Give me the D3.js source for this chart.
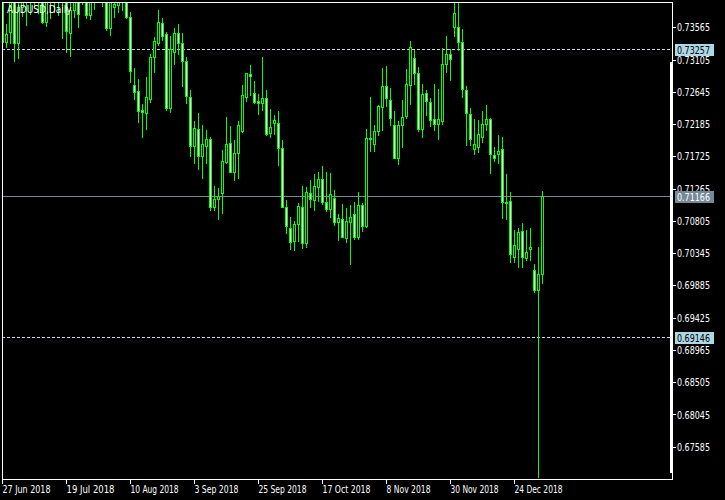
<!DOCTYPE html>
<html><head><meta charset="utf-8">
<script src="https://cdnjs.cloudflare.com/ajax/libs/d3/7.8.5/d3.min.js"></script>
<style>
html,body{margin:0;padding:0;background:#000;}
svg{display:block;}
text{font-family:"DejaVu Sans",sans-serif;font-stretch:condensed;font-size:10px;}
</style></head><body>
<svg id="chart" width="725" height="500"></svg>
<script>
const symbolTitle = "AUDUSD,Daily";
const firstDate = "2018-06-27";
const holidays = ["2018-12-25", "2019-01-01"];

const opens = [0.74025,0.73355,0.73498,0.74025,0.73341,0.73854,0.74025,0.74068,0.73997,0.74097,
0.74040,0.73640,0.73997,0.74068,0.74125,0.74025,0.73983,0.73483,0.73811,0.74025,
0.73954,0.74068,0.73740,0.74025,0.74097,0.74239,0.74025,0.73555,0.73854,0.73883,
0.73997,0.74040,0.73712,0.72742,0.72656,0.72385,0.72343,0.72542,0.73141,0.73341,
0.73626,0.73469,0.72414,0.73212,0.73483,0.73341,0.73084,0.72571,0.71872,0.72114,
0.71729,0.71872,0.71972,0.71002,0.71116,0.71202,0.71644,0.71915,0.71501,0.71772,
0.72086,0.72571,0.72899,0.72628,0.72514,0.72485,0.72557,0.72057,0.72200,0.72200,
0.71844,0.71002,0.70703,0.70517,0.70760,0.71002,0.70489,0.71202,0.71102,0.71288,
0.71401,0.71073,0.70974,0.71131,0.70788,0.70831,0.70560,0.70788,0.70902,0.70574,
0.71031,0.70731,0.71986,0.71901,0.72086,0.72428,0.72728,0.72528,0.72172,0.71701,
0.72172,0.72300,0.72742,0.73127,0.72913,0.72114,0.72628,0.72499,0.72257,0.72186,
0.72229,0.73041,0.73184,0.73569,0.73569,0.73355,0.72671,0.72328,0.71829,0.71858,
0.72000,0.72186,0.72257,0.71744,0.71758,0.71829,0.71073,0.71088,0.70289,0.70403,
0.70660,0.70275,0.70403,0.70104,0.69819,0.70047];

const highs = [0.74239,0.73612,0.74168,0.74125,0.74025,0.74168,0.74239,0.74211,0.74239,0.74268,
0.74168,0.74097,0.74239,0.74311,0.74311,0.74168,0.74097,0.74025,0.74168,0.74125,
0.74239,0.74239,0.74097,0.74239,0.74382,0.74382,0.74168,0.74097,0.74025,0.74068,
0.74168,0.74125,0.73783,0.72984,0.72827,0.72471,0.72856,0.73184,0.73426,0.73811,
0.73697,0.73498,0.73441,0.73555,0.73612,0.73483,0.73141,0.72671,0.72229,0.72343,
0.72172,0.72100,0.72000,0.71302,0.71273,0.71815,0.72286,0.72157,0.71958,0.72229,
0.72742,0.72913,0.73027,0.72799,0.72614,0.73141,0.72671,0.72400,0.72314,0.72371,
0.71958,0.71102,0.70860,0.70803,0.71059,0.71302,0.71288,0.71387,0.71473,0.71501,
0.71587,0.71501,0.71487,0.71245,0.70902,0.71045,0.70988,0.71031,0.71073,0.71216,
0.71059,0.72114,0.72571,0.72172,0.72457,0.72984,0.73013,0.72699,0.72371,0.72229,
0.72528,0.72970,0.73369,0.73241,0.72999,0.72756,0.72671,0.72557,0.72756,0.72685,
0.73270,0.73441,0.73255,0.73911,0.73911,0.73540,0.72728,0.72414,0.72257,0.72243,
0.72371,0.72457,0.72271,0.71858,0.72029,0.72000,0.71473,0.71216,0.70674,0.70703,
0.70774,0.70674,0.70703,0.70189,0.70432,0.71230];

const lows = [0.73341,0.73284,0.73341,0.73084,0.73127,0.73726,0.73597,0.73754,0.73854,0.73769,
0.73626,0.73583,0.73697,0.73783,0.73740,0.73412,0.73212,0.73155,0.73712,0.73569,
0.73897,0.73697,0.73683,0.73826,0.73983,0.73868,0.73526,0.73455,0.73712,0.73783,
0.73811,0.73697,0.72785,0.72542,0.72214,0.72000,0.72114,0.72499,0.72927,0.73312,
0.73384,0.72385,0.72357,0.73041,0.73184,0.72728,0.72485,0.71729,0.71630,0.71544,
0.71416,0.71630,0.70959,0.70959,0.70831,0.70917,0.71630,0.71501,0.71387,0.71416,
0.72072,0.72514,0.72599,0.72485,0.72328,0.72385,0.72029,0.72000,0.72043,0.71601,
0.71002,0.70632,0.70403,0.70389,0.70517,0.70418,0.70432,0.71002,0.70959,0.71088,
0.71045,0.70945,0.70860,0.70746,0.70532,0.70574,0.70503,0.70189,0.70546,0.70546,
0.70660,0.70717,0.71801,0.71801,0.72029,0.72100,0.72442,0.72172,0.71701,0.71615,
0.71858,0.72271,0.72471,0.72756,0.72086,0.72000,0.72314,0.72157,0.72100,0.71972,
0.72186,0.72927,0.72813,0.73441,0.73241,0.72571,0.71886,0.71886,0.71758,0.71787,
0.71929,0.72100,0.71487,0.71658,0.71630,0.70845,0.70831,0.70218,0.70218,0.70147,
0.70147,0.70246,0.70246,0.69790,0.67152,0.69918];

const closes = [0.73355,0.73469,0.74025,0.73341,0.73854,0.74025,0.74068,0.73997,0.74097,0.74040,
0.73640,0.73997,0.74068,0.74125,0.74025,0.73983,0.73512,0.73811,0.74025,0.73754,
0.74068,0.73740,0.74025,0.74097,0.74239,0.74025,0.73555,0.73983,0.73897,0.73997,
0.74040,0.73712,0.72942,0.72642,0.72371,0.72357,0.72571,0.73141,0.73369,0.73640,
0.73441,0.72414,0.73255,0.73483,0.73341,0.73084,0.72585,0.71872,0.72129,0.71729,
0.71901,0.71972,0.71002,0.71116,0.71159,0.71658,0.71901,0.71501,0.71772,0.72172,
0.72599,0.72913,0.72870,0.72499,0.72485,0.72557,0.72043,0.72143,0.72243,0.71844,
0.71002,0.70731,0.70503,0.70760,0.71016,0.70489,0.71216,0.71116,0.71302,0.71401,
0.71073,0.70974,0.71188,0.70788,0.70845,0.70574,0.70803,0.70860,0.70574,0.71031,
0.70731,0.71986,0.71972,0.72086,0.72442,0.72728,0.72557,0.72271,0.71701,0.72172,
0.72286,0.72756,0.73284,0.72913,0.72114,0.72614,0.72514,0.72243,0.72186,0.72257,
0.73041,0.73184,0.73113,0.73769,0.73355,0.72685,0.72343,0.71972,0.71901,0.72043,
0.72186,0.72257,0.71758,0.71701,0.71801,0.71073,0.71059,0.70332,0.70460,0.70646,
0.70289,0.70361,0.70432,0.69819,0.70047,0.71166];

const priceTicks = [0.73565,0.73105,0.72645,0.72185,0.71725,0.71265,0.70805,0.70345,0.69885,0.69425,0.68965,0.68505,0.68045,0.67585];
const dateTickStep = 16;
const bidPrice = 0.71166;
const levelLines = [0.73257, 0.69146];

// ---- build
const W = 725, H = 500;
const plot = {left: 2, top: 2, right: 672, bottom: 479};
const svg = d3.select("#chart");
svg.append("rect").attr("width", W).attr("height", H).attr("fill", "#000");

const FONT = '"DejaVu Sans",sans-serif';

const parse = d3.timeParse("%Y-%m-%d");
const keyFmt = d3.timeFormat("%Y-%m-%d");
const dates = [];
{
  let d = parse(firstDate);
  while (dates.length < opens.length) {
    const wd = d.getDay();
    if (wd !== 0 && wd !== 6 && !holidays.includes(keyFmt(d))) dates.push(new Date(d));
    d = d3.timeDay.offset(d, 1);
  }
}
const bars = dates.map((d, i) => ({i, date: d, o: opens[i], h: highs[i], l: lows[i], c: closes[i]}));

const x = d3.scaleLinear().domain([0, 167.5]).range([plot.left, plot.right]);
const y = d3.scaleLinear().domain([0.67124, 0.73926]).range([plot.bottom, plot.top]);

const LIME = "#00ff00";

svg.append("clipPath").attr("id", "clip").append("rect")
  .attr("x", plot.left + 1).attr("y", plot.top + 1)
  .attr("width", plot.right - plot.left - 1).attr("height", plot.bottom - plot.top - 1);

const g = svg.append("g").attr("clip-path", "url(#clip)").attr("shape-rendering", "crispEdges");

// level lines
levelLines.forEach(v => {
  g.append("line").attr("x1", plot.left).attr("x2", plot.right)
    .attr("y1", Math.round(y(v)) + 0.5).attr("y2", Math.round(y(v)) + 0.5)
    .attr("stroke", "#c9dde6").attr("stroke-dasharray", "3,2");
});
// bid line
g.append("line").attr("x1", plot.left).attr("x2", plot.right)
  .attr("y1", Math.round(y(bidPrice)) + 0.5).attr("y2", Math.round(y(bidPrice)) + 0.5)
  .attr("stroke", "#778899");

// wicks
g.selectAll("line.wick").data(bars).join("line").attr("class", "wick")
  .attr("x1", d => x(d.i) + 0.5).attr("x2", d => x(d.i) + 0.5)
  .attr("y1", d => Math.round(y(d.h))).attr("y2", d => Math.round(y(d.l)) + 1)
  .attr("stroke", LIME);

// bodies
bars.forEach(d => {
  const t = Math.round(y(Math.max(d.o, d.c)));
  const b = Math.round(y(Math.min(d.o, d.c)));
  if (b - t < 1) {
    g.append("line").attr("x1", x(d.i) - 1).attr("x2", x(d.i) + 2)
      .attr("y1", t + 0.5).attr("y2", t + 0.5).attr("stroke", LIME);
  } else {
    g.append("rect").attr("x", x(d.i) - 0.5).attr("y", t + 0.5)
      .attr("width", 2).attr("height", b - t)
      .attr("fill", d.c < d.o ? "#ffffff" : "#000000")
      .attr("stroke", LIME);
  }
});

// frame
svg.append("rect").attr("x", plot.left + 0.5).attr("y", plot.top + 0.5)
  .attr("width", plot.right - plot.left).attr("height", plot.bottom - plot.top)
  .attr("fill", "none").attr("stroke", "#fff").attr("shape-rendering", "crispEdges");
svg.append("rect").attr("x", plot.right - 2).attr("y", 62).attr("width", 3).attr("height", 411)
  .attr("fill", "#fff");

// fit text widths to the reference's narrow bitmap font
function fit(sel, px) {
  sel.each(function () {
    const w = this.getComputedTextLength();
    const target = this.textContent.length * px;
    if (w > target) d3.select(this).attr("textLength", target).attr("lengthAdjust", "spacingAndGlyphs");
  });
}

// bottom axis
const fmtDate = d3.timeFormat("%-d %b %Y");
const xAxis = d3.axisBottom(x)
  .tickValues(d3.range(0, bars.length, dateTickStep))
  .tickFormat(i => fmtDate(dates[i]))
  .tickSize(5).tickSizeOuter(0);
const gx = svg.append("g").attr("transform", `translate(0,${plot.bottom})`).call(xAxis);
gx.select(".domain").remove();
gx.selectAll(".tick line").attr("stroke", "#fff").attr("shape-rendering", "crispEdges");
gx.selectAll(".tick text").attr("fill", "#fff").attr("text-anchor", "start")
  .attr("x", 0).attr("y", 13.5).attr("dy", null)
  .style("font-family", FONT).style("font-stretch", "condensed").style("font-size", "10px");
gx.selectAll(".tick text").each(function () {
  const w = this.getComputedTextLength();
  const target = this.textContent.length === 11 ? 48 : 44;
  if (w > target + 1) d3.select(this).attr("textLength", target).attr("lengthAdjust", "spacingAndGlyphs");
});

// right axis
const yAxis = d3.axisRight(y).tickValues(priceTicks).tickFormat(d3.format(".5f")).tickSize(4).tickSizeOuter(0);
const gy = svg.append("g").attr("transform", `translate(${plot.right},0)`).call(yAxis);
gy.select(".domain").remove();
gy.selectAll(".tick line").attr("stroke", "#fff").attr("shape-rendering", "crispEdges");
gy.selectAll(".tick text").attr("fill", "#fff").attr("x", 5).attr("dy", "0.36em")
  .style("font-family", FONT).style("font-stretch", "condensed").style("font-size", "10px");
gy.selectAll(".tick text").each(function () {
  if (this.getComputedTextLength() > 34) d3.select(this).attr("textLength", 33).attr("lengthAdjust", "spacingAndGlyphs");
});

// price labels
function priceBox(v, bg, fg) {
  const cy = Math.round(y(v));
  svg.append("rect").attr("x", plot.right + 3).attr("y", cy - 5).attr("width", 39).attr("height", 12)
    .attr("fill", bg);
  const t = svg.append("text").attr("x", plot.right + 5).attr("y", cy + 5)
    .attr("fill", fg).text(d3.format(".5f")(v));
  if (t.node().getComputedTextLength() > 34) t.attr("textLength", 33).attr("lengthAdjust", "spacingAndGlyphs");
}
levelLines.forEach(v => priceBox(v, "#add8e6", "#000"));
priceBox(bidPrice, "#778899", "#fff");

// title
const tt = svg.append("text").attr("x", 7).attr("y", 13).attr("fill", "#fff").text(symbolTitle);
if (tt.node().getComputedTextLength() > 66) tt.attr("textLength", 65).attr("lengthAdjust", "spacingAndGlyphs");
</script>
</body></html>
